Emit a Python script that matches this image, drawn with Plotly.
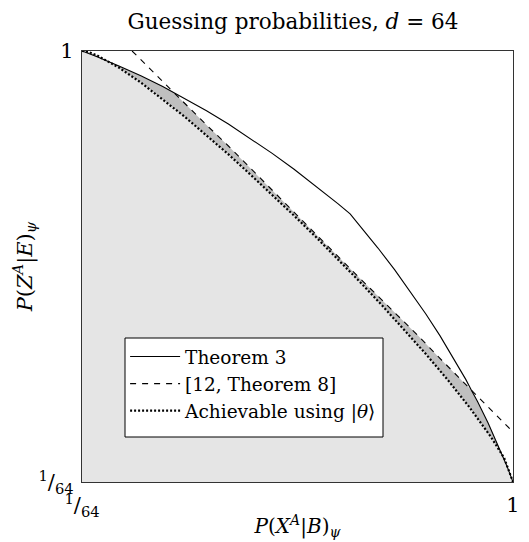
import plotly.graph_objects as go

# Achievable using |theta>  (P(X|B), P(Z|E))
ach_x = [0.015625, 0.03, 0.05, 0.1, 0.15, 0.2, 0.25, 0.3, 0.35, 0.4, 0.45, 0.5,
         0.55, 0.6, 0.65, 0.7, 0.75, 0.8, 0.85, 0.9, 0.95, 0.98, 1.0]
ach_y = [1.0, 0.998, 0.990, 0.962, 0.928, 0.890, 0.850, 0.807, 0.764, 0.718, 0.672, 0.624,
         0.575, 0.525, 0.473, 0.420, 0.365, 0.309, 0.250, 0.187, 0.118, 0.070, 0.015625]

# Theorem 3
th3_x = [0.015625, 0.05, 0.1, 0.15, 0.2, 0.225, 0.25, 0.3, 0.35, 0.4, 0.45, 0.5, 0.55, 0.6, 0.628,
         0.6513, 0.6916, 0.7299, 0.7662, 0.8006, 0.8331, 0.8635, 0.8921, 0.905, 0.9187, 0.9434, 0.966, 0.987, 1.0]
th3_y = [1.0, 0.987, 0.966, 0.9434, 0.9187, 0.905, 0.8921, 0.8635, 0.8331, 0.8006, 0.7662, 0.7299, 0.6916, 0.6513, 0.628,
         0.6, 0.55, 0.5, 0.45, 0.4, 0.35, 0.3, 0.25, 0.225, 0.2, 0.15, 0.1, 0.05, 0.015625]

# [12, Theorem 8]
ref_x = [0.13, 0.225, 0.30, 0.35, 0.422, 0.50, 0.565, 0.631, 0.710, 0.783, 0.831, 0.905, 1.0]
ref_y = [1.0, 0.905, 0.831, 0.783, 0.710, 0.631, 0.565, 0.50, 0.422, 0.35, 0.30, 0.225, 0.13]

xmin, xmax = 1/64, 1.0
tickvals = [1/64, 1.0]
ticktext = ["<sup>1</sup>/<sub>64</sub>", "1"]

FONT = "DejaVu Serif"
W, H = 521, 534  # page body keeps an 8px margin inside the 529x542 window

fig = go.Figure()

# light gray: achievable region
fig.add_trace(go.Scatter(x=ach_x + [1.0, 1/64], y=ach_y + [1/64, 1/64],
                         fill="toself", fillcolor="#e5e5e5", line=dict(width=0),
                         mode="lines", showlegend=False, hoverinfo="skip"))

# dark gray: gap between min(bounds) and achievable
up_x = th3_x[:6] + ref_x[2:-2] + th3_x[-6:]
up_y = th3_y[:6] + ref_y[2:-2] + th3_y[-6:]
fig.add_trace(go.Scatter(x=up_x + ach_x[::-1], y=up_y + ach_y[::-1],
                         fill="toself", fillcolor="#bfbfbf", line=dict(width=0),
                         mode="lines", showlegend=False, hoverinfo="skip"))

fig.add_trace(go.Scatter(x=th3_x, y=th3_y, mode="lines", name="Theorem 3",
                         line=dict(color="black", width=1.1)))
fig.add_trace(go.Scatter(x=ref_x, y=ref_y, mode="lines", name="[12, Theorem 8]",
                         line=dict(color="black", width=1.1, dash="6px,6px")))
fig.add_trace(go.Scatter(x=ach_x, y=ach_y, mode="lines", name="Achievable using |<i>θ</i>⟩",
                         line=dict(color="black", width=2.2, dash="2px,2px")))

axis_common = dict(range=[xmin, xmax], tickvals=tickvals, ticktext=ticktext,
                   showgrid=False, zeroline=False, showline=True, mirror=True,
                   linecolor="#333", linewidth=1.3, ticks="", automargin=False,
                   tickfont=dict(family=FONT, size=21, color="black"))

fig.update_xaxes(**axis_common, ticklabelstandoff=4,
                 title=dict(text="<i>P</i>(<i>X</i><sup><i>A</i></sup>|<i>B</i>)<sub><i>ψ</i></sub>",
                            font=dict(family=FONT, size=20, color="black"), standoff=0))
fig.update_yaxes(**axis_common, ticklabelstandoff=3,
                 title=dict(text="<i>P</i>(<i>Z</i><sup><i>A</i></sup>|<i>E</i>)<sub><i>ψ</i></sub>",
                            font=dict(family=FONT, size=21, color="black"), standoff=0))

# legend frame (white box with black border), legend entries drawn on top
fig.add_shape(type="rect", xref="paper", yref="paper",
              x0=0.0998, x1=0.6984, y0=0.1044, y1=0.3341,
              fillcolor="white", line=dict(color="black", width=1), layer="above")

fig.update_layout(
    width=W, height=H,
    margin=dict(l=74, r=16, t=43, b=60),
    paper_bgcolor="white", plot_bgcolor="white",
    font=dict(family=FONT, color="black"),
    title=dict(text="Guessing probabilities, <i>d</i> = 64", x=285/W, xref="container",
               xanchor="center", y=1 - 13/H, yref="container", yanchor="middle",
               font=dict(family=FONT, size=21.5, color="black")),
    legend=dict(x=0.1, y=0.334, xanchor="left", yanchor="top",
                bgcolor="rgba(0,0,0,0)", borderwidth=0,
                font=dict(family=FONT, size=18.5, color="black"),
                itemwidth=50, tracegroupgap=0),
)

fig.write_html("out.html")
